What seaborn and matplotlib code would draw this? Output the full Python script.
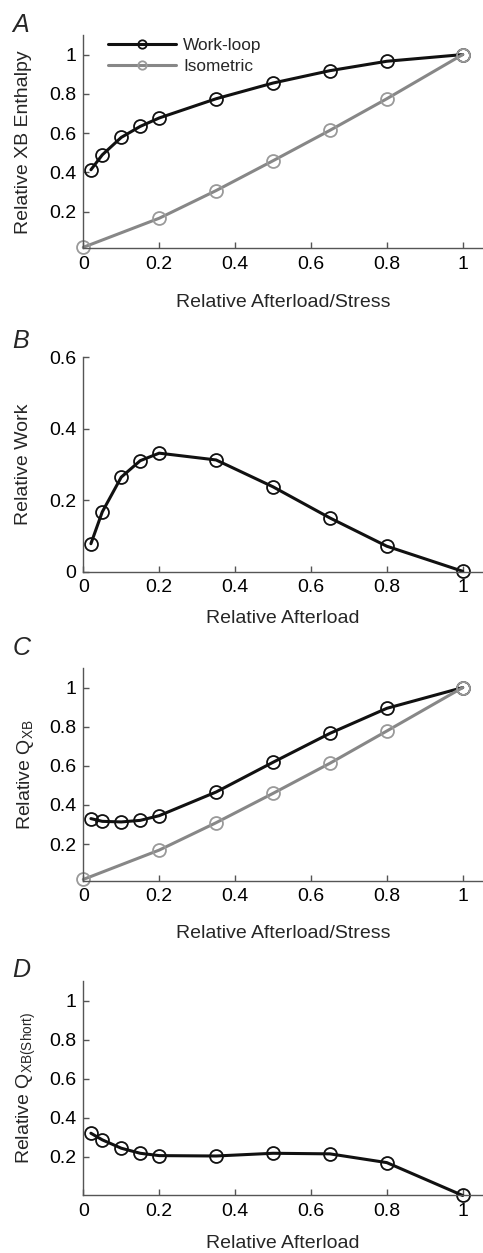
import matplotlib
matplotlib.use("Agg")
import matplotlib.pyplot as plt
import seaborn as sns
import pandas as pd

# ---------------- data ----------------
afterload_wl = [0.02, 0.05, 0.10, 0.15, 0.20, 0.35, 0.50, 0.65, 0.80, 1.00]
afterload_iso = [0.00, 0.20, 0.35, 0.50, 0.65, 0.80, 1.00]

enthalpy_wl = [0.413, 0.489, 0.578, 0.634, 0.677, 0.775, 0.855, 0.918, 0.966, 1.000]
enthalpy_iso = [0.018, 0.166, 0.307, 0.459, 0.614, 0.775, 1.000]

work_wl = [0.079, 0.168, 0.265, 0.311, 0.332, 0.313, 0.238, 0.151, 0.072, 0.002]

qxb_wl = [0.330, 0.316, 0.313, 0.321, 0.345, 0.466, 0.618, 0.766, 0.894, 1.000]
qxb_iso = [0.019, 0.169, 0.309, 0.459, 0.613, 0.778, 1.000]

qxb_short_wl = [0.320, 0.286, 0.243, 0.217, 0.205, 0.203, 0.217, 0.214, 0.169, 0.000]

x_ticks = [0, 0.2, 0.4, 0.6, 0.8, 1]
x_ticklabels = ["0", "0.2", "0.4", "0.6", "0.8", "1"]
y_ticks_frac = [0.2, 0.4, 0.6, 0.8, 1]
y_ticklabels_frac = ["0.2", "0.4", "0.6", "0.8", "1"]
y_ticks_work = [0, 0.2, 0.4, 0.6]
y_ticklabels_work = ["0", "0.2", "0.4", "0.6"]

# ---------------- style ----------------
sns.set_style("ticks")
plt.rcParams["font.family"] = ["Liberation Sans", "DejaVu Sans"]
plt.rcParams["mathtext.fontset"] = "custom"
plt.rcParams["mathtext.rm"] = "Liberation Sans"
plt.rcParams["mathtext.it"] = "Liberation Sans:italic"

BLACK = "#111111"
GREY_LINE = "#878787"
GREY_MARK = "#9a9a9a"
SPINE = "#555555"

fig = plt.figure(figsize=(4.83, 12.53), dpi=100)

positions = [
    [0.1725, 0.8017, 0.8275, 0.1704],
    [0.1725, 0.5435, 0.8275, 0.1714],
    [0.1725, 0.2969, 0.8275, 0.1698],
    [0.1725, 0.0459, 0.8275, 0.1714],
]
axes = [fig.add_axes(p) for p in positions]

line_kw = dict(lw=2.2, marker="o", markersize=9.3, markerfacecolor="none",
               markeredgewidth=1.3, clip_on=False)


def draw(ax, x, y, color, mcolor, label=None):
    df = pd.DataFrame({"x": x, "y": y})
    sns.lineplot(data=df, x="x", y="y", ax=ax, color=color,
                 markeredgecolor=mcolor, label=label, **line_kw)


# A
draw(axes[0], afterload_wl, enthalpy_wl, BLACK, BLACK, "Work-loop")
draw(axes[0], afterload_iso, enthalpy_iso, GREY_LINE, GREY_MARK, "Isometric")
# B
draw(axes[1], afterload_wl, work_wl, BLACK, BLACK)
# C
draw(axes[2], afterload_wl, qxb_wl, BLACK, BLACK)
draw(axes[2], afterload_iso, qxb_iso, GREY_LINE, GREY_MARK)
# D
draw(axes[3], afterload_wl, qxb_short_wl, BLACK, BLACK)

ylims = [(0.012, 1.10), (0.0, 0.6), (0.011, 1.099), (0.0, 1.104)]
yticks = [y_ticks_frac, y_ticks_work, y_ticks_frac, y_ticks_frac]
yticklabels = [y_ticklabels_frac, y_ticklabels_work, y_ticklabels_frac, y_ticklabels_frac]
xlabels = ["Relative Afterload/Stress", "Relative Afterload",
           "Relative Afterload/Stress", "Relative Afterload"]
xlabelpads = [15.0, 10.0, 14.5, 11.0]
ylabels = ["Relative XB Enthalpy", "Relative Work",
           r"Relative Q$_{\mathrm{XB}}$", r"Relative Q$_{\mathrm{XB(Short)}}$"]

for ax, yl, yt, ytl, xl, xlp, ylab in zip(axes, ylims, yticks, yticklabels,
                                           xlabels, xlabelpads, ylabels):
    ax.set_xlim(0, 1.0535)
    ax.set_ylim(*yl)
    ax.set_xticks(x_ticks)
    ax.set_xticklabels(x_ticklabels)
    ax.set_yticks(yt)
    ax.set_yticklabels(ytl)
    sns.despine(ax=ax)
    for s in ("left", "bottom"):
        ax.spines[s].set_color(SPINE)
        ax.spines[s].set_linewidth(1.0)
    ax.tick_params(direction="in", length=4, width=1.0, color=SPINE,
                   labelsize=14, pad=5.2, labelcolor="black")
    ax.set_xlabel(xl, fontsize=14, labelpad=xlp)
    ax.set_ylabel(ylab, fontsize=14, va="top")
    ax.yaxis.set_label_coords(-0.172, 0.5)

leg = axes[0].legend(loc="upper left", bbox_to_anchor=(0.054, 1.0),
                     frameon=False, fontsize=12.4, handlelength=3.9,
                     handletextpad=0.45, labelspacing=0.3, borderpad=0.2,
                     borderaxespad=0, markerscale=0.65)

# Panel letters
for letter, y in zip("ABCD", [0.9747, 0.7223, 0.4773, 0.2203]):
    fig.text(0.026, y, letter, fontsize=18, style="italic", va="baseline",
             ha="left")

fig.savefig("out.png", dpi=100)
